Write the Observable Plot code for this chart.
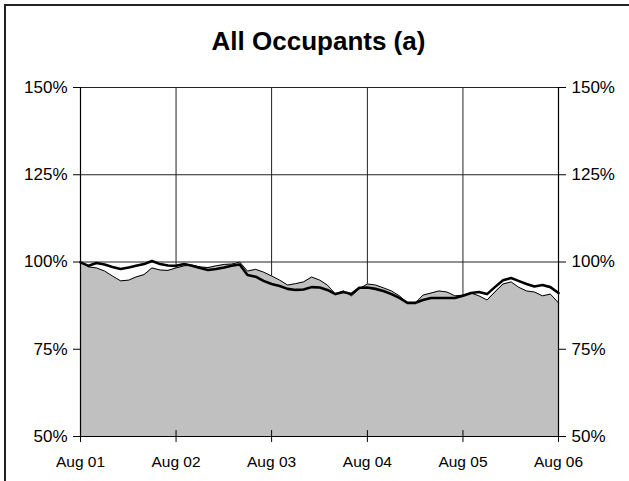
<!DOCTYPE html>
<html>
<head>
<meta charset="utf-8">
<script src="https://cdn.jsdelivr.net/npm/d3@7"></script>
<script src="https://cdn.jsdelivr.net/npm/@observablehq/plot@0.6"></script>
<style>
  html, body { margin: 0; padding: 0; background: #fff; }
  body { width: 629px; height: 481px; overflow: hidden; position: relative; font-family: Arial, "Liberation Sans", sans-serif; }
  #frame { position: absolute; left: 4px; top: 4px; width: 700px; height: 600px; border-left: 2px solid #222; border-top: 2px solid #222; pointer-events: none; }
  #title { height: 61px; box-sizing: border-box; padding-top: 27px; padding-left: 8px; text-align: center; font-weight: bold; font-size: 26px; line-height: 28px; color: #000; }
  #chart svg { display: block; }
</style>
</head>
<body>
<div id="frame"></div>
<div id="title">All Occupants (a)</div>
<div id="chart"></div>
<script>
// Monthly observations, Aug 2001 .. Aug 2006 (percent of baseline)
const startMonth = "2001-08-01";
const areaSeries = [
  100.0, 98.6, 98.3, 97.4, 96.0, 94.6, 94.8, 95.7, 96.4, 98.3, 97.7, 97.6,
  98.3, 98.9, 99.1, 98.6, 98.4, 98.9, 99.3, 99.4, 100.0, 97.4, 97.9, 97.1,
  96.0, 94.8, 93.4, 93.8, 94.3, 95.7, 94.8, 93.4, 90.8, 91.7, 90.3, 92.3,
  93.7, 93.4, 92.6, 91.7, 90.3, 88.3, 88.3, 90.5, 91.1, 91.7, 91.4, 90.3,
  90.5, 91.1, 90.3, 89.1, 91.4, 93.7, 94.3, 92.8, 91.7, 91.4, 90.3, 90.8,
  88.3
];
const lineSeries = [
  99.9, 98.9, 99.7, 99.3, 98.6, 98.0, 98.4, 98.9, 99.4, 100.3, 99.4, 99.0,
  98.9, 99.4, 98.9, 98.3, 97.7, 98.0, 98.4, 98.9, 99.3, 96.3, 95.8, 94.6,
  93.7, 93.1, 92.3, 92.0, 92.1, 92.8, 92.7, 92.0, 90.8, 91.4, 90.8, 92.6,
  92.7, 92.3, 91.7, 90.8, 89.7, 88.3, 88.3, 89.1, 89.7, 89.7, 89.7, 89.7,
  90.3, 91.1, 91.4, 90.8, 92.8, 94.8, 95.4, 94.6, 93.7, 93.0, 93.4, 92.8,
  91.1
];
const xTickLabels = ["Aug 01", "Aug 02", "Aug 03", "Aug 04", "Aug 05", "Aug 06"];
const xTickDates = ["2001-08-01", "2002-08-01", "2003-08-01", "2004-08-01", "2005-08-01", "2006-08-01"];
const yTicks = [50, 75, 100, 125, 150];
const yGrid = [100, 125, 150];

const start = new Date(startMonth + "T00:00:00Z");
const data = areaSeries.map((v, i) => ({
  date: d3.utcMonth.offset(start, i),
  area: v,
  line: lineSeries[i]
}));
const tickDates = xTickDates.map(s => new Date(s + "T00:00:00Z"));
const labelFor = d => xTickLabels[tickDates.findIndex(t => +t === +d)];
const innerGrid = tickDates.slice(1, -1);

const chart = Plot.plot({
  width: 629,
  height: 420,
  marginLeft: 80,
  marginRight: 71,
  marginTop: 26,
  marginBottom: 45,
  style: { fontFamily: "Arial, 'Liberation Sans', sans-serif", color: "#000", background: "#fff" },
  x: { type: "utc", domain: [tickDates[0], tickDates[tickDates.length - 1]] },
  y: { domain: [50, 150] },
  marks: [
    Plot.ruleX(innerGrid, { stroke: "#222", strokeWidth: 1 }),
    Plot.ruleY(yGrid, { stroke: "#222", strokeWidth: 1 }),
    Plot.areaY(data, { x: "date", y1: 50, y2: "area", fill: "#c0c0c0", fillOpacity: 1 }),
    Plot.lineY(data, { x: "date", y: "area", stroke: "#000", strokeWidth: 1 }),
    Plot.lineY(data, { x: "date", y: "line", stroke: "#000", strokeWidth: 2.6 }),
    Plot.ruleX([tickDates[0], tickDates[tickDates.length - 1]], { stroke: "#000", strokeWidth: 1.2 }),
    Plot.ruleY([50], { stroke: "#000", strokeWidth: 1.2 }),
    Plot.axisY({ anchor: "left", ticks: yTicks, tickFormat: d => d + "%", tickSize: 7, tickPadding: 6, fontSize: 17, label: null, stroke: "#000" }),
    Plot.axisY({ anchor: "right", ticks: yTicks, tickFormat: d => d + "%", tickSize: 7, tickPadding: 6, fontSize: 17, label: null, stroke: "#000" }),
    Plot.ruleX(tickDates, { x: d => d, y1: 48.3, y2: 51.7, stroke: "#000" }),
    Plot.axisX({ ticks: tickDates, tickFormat: labelFor, tickSize: 0, tickPadding: 19, fontSize: 15.5, label: null })
  ]
});
document.getElementById("chart").appendChild(chart);
</script>
</body>
</html>
